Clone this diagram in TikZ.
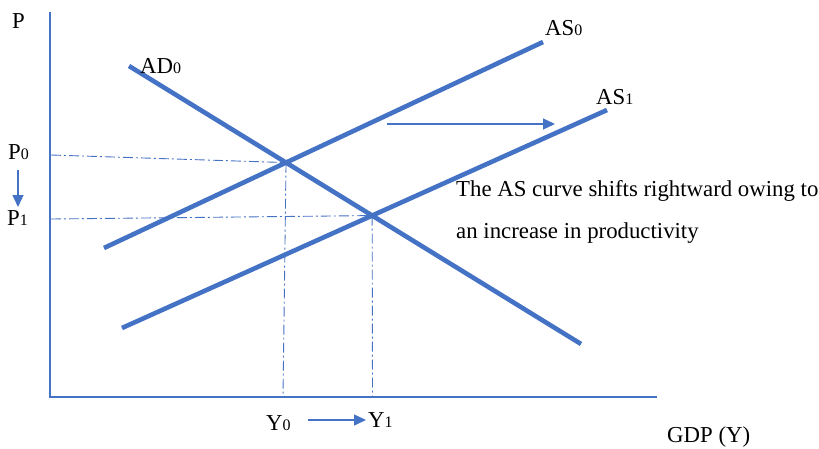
\documentclass[tikz,border=0pt]{standalone}
\usepackage{fontspec}
\setmainfont{Liberation Serif}
\usetikzlibrary{arrows.meta,intersections}
\definecolor{ob}{HTML}{4472C4}
\newcommand{\subd}[1]{{\fontsize{16}{16}\selectfont #1}}
\begin{document}
\begin{tikzpicture}[x=1pt,y=-1pt,
  curve/.style={ob, line width=4.6pt},
  axisline/.style={ob, line width=1.3pt},
  guide/.style={ob, line width=0.9pt, dash pattern=on 10pt off 3pt on 2pt off 3pt},
  arr/.style={ob, line width=1.3pt, -{Triangle[length=12pt,width=11pt]}},
  lbl/.style={inner sep=0pt, anchor=base west, font=\fontsize{22.8}{27}\selectfont}]
\useasboundingbox (0,0) rectangle (819,448);
% axes
\coordinate (ytop) at (50,12);
\coordinate (orig) at (50,397);
\coordinate (xend) at (657,397);
\draw[axisline] (ytop) -- (orig) -- (xend);
% curves
\coordinate (ad0s) at (129,66);
\coordinate (ad0e) at (581,344);
\coordinate (as0s) at (104,248);
\coordinate (as0e) at (543,42);
\coordinate (as1s) at (122,328);
\coordinate (as1e) at (607,110);
\draw[curve, name path=ad] (ad0s) -- (ad0e);
\draw[curve, name path=asa] (as0s) -- (as0e);
\draw[curve, name path=asb] (as1s) -- (as1e);
\path[name intersections={of=ad and asa, by=E0}];
\path[name intersections={of=ad and asb, by=E1}];
% guides
\coordinate (p0ax) at (51,155);
\coordinate (p1ax) at (51,219);
\coordinate (y0ax) at (283,397);
\coordinate (y1ax) at (372.5,397);
\draw[guide] (p0ax) -- (E0);
\draw[guide] (p1ax) -- (E1);
\draw[guide] (E0) -- (y0ax);
\draw[guide] (E1) -- (y1ax);
% labels
\node[lbl] (P) at (12,28) {P};
\node[lbl] (AD) at (140,73) {AD\subd{0}};
\node[lbl] (AS0) at (545,35) {AS\subd{0}};
\node[lbl] (AS1) at (596,104) {AS\subd{1}};
\node[lbl] (P0) at (8,159) {P\subd{0}};
\node[lbl] (P1) at (7,225) {P\subd{1}};
\node[lbl] (Y0) at (266,430) {Y\subd{0}};
\node[lbl] (Y1) at (368,427) {Y\subd{1}};
\node[lbl] (GDP) at (667,442) {GDP (Y)};
\node[lbl] (t1) at (456,196) {The AS curve shifts rightward owing to};
\node[lbl] (t2) at (456,238) {an increase in productivity};
% arrows
\coordinate (pa1) at (18,170);
\coordinate (pa2) at (18,207);
\draw[arr] (pa1) -- (pa2);
\coordinate (ya1) at (308,420);
\coordinate (ya2) at (366,420);
\draw[arr] (ya1) -- (ya2);
\coordinate (sa1) at (387,124);
\coordinate (sa2) at (555,124);
\draw[arr] (sa1) -- (sa2);
\end{tikzpicture}
\end{document}
